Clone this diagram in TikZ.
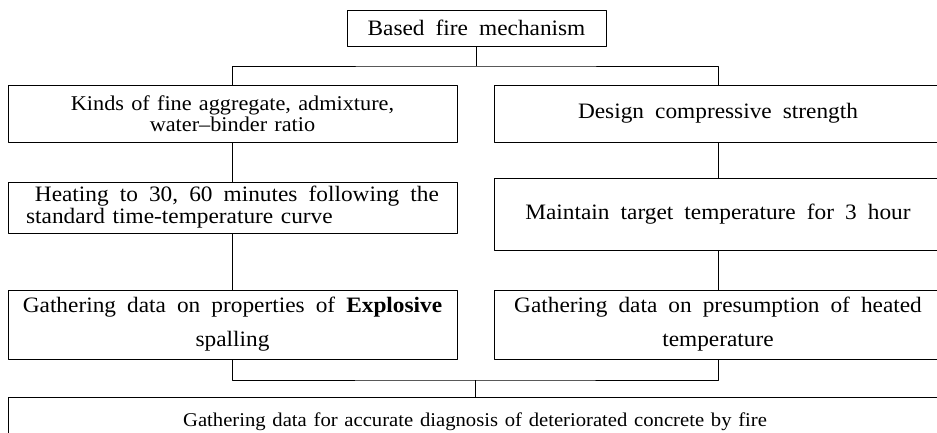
\documentclass[tikz,border=0pt]{standalone}
\usepackage{fontspec}
\setmainfont[FakeStretch=1.06,WordSpace=1.9]{Liberation Serif}
\newfontfamily\plainsp[FakeStretch=1.06]{Liberation Serif}
\newfontfamily\midsp[FakeStretch=1.06,WordSpace=1.3]{Liberation Serif}
\begin{document}
\begin{tikzpicture}[x=1pt,y=-1pt,line join=round,line width=0.9pt]
	\tikzset{box/.style={draw,inner sep=0pt,align=center,font=\fontsize{22}{22}\selectfont},
		leftbox/.style={box,minimum width=449pt},
		rightbox/.style={box,minimum width=448pt}}
	\useasboundingbox (0,0) rectangle (937,432);
	% top
	\node[box,minimum width=259pt,minimum height=36pt] (mech) at (476.5,28) {Based fire mechanism};
	% left column
	\node[leftbox,minimum height=57pt,font=\fontsize{21}{21}\midsp] (kinds) at (232.5,113.5) {Kinds of fine aggregate, admixture,\\ water\textendash binder ratio};
	\node[leftbox,minimum height=51pt,align=left] (heat) at (232.5,207.5) {\hspace*{0.4em}Heating to 30, 60 minutes following the\\ {\plainsp standard time-temperature curve}};
	\node[leftbox,minimum height=69pt] (spall) at (232.5,324.5) {Gathering data on properties of \textbf{Explosive}\\[12pt] spalling};
	% right column
	\node[rightbox,minimum height=57pt] (design) at (718,113.5) {Design compressive strength};
	\node[rightbox,minimum height=72pt] (hold) at (718,214) {Maintain target temperature for 3 hour};
	\node[rightbox,minimum height=69pt] (presume) at (718,324.5) {Gathering data on presumption of heated\\[12pt] temperature};
	% bottom
	\node[box,minimum width=934pt,minimum height=50pt,font=\fontsize{19.5}{20}\midsp] (diag) at (475,422) {Gathering data for accurate diagnosis of deteriorated concrete by fire};
	\coordinate (j1) at (476.5,66);
	\coordinate (j2) at (475,380);
	\draw (mech) -- (j1);
	\draw (kinds.north) |- (j1) -| (design.north);
	\draw (kinds) -- (heat);
	\draw (heat) -- (spall);
	\draw (design) -- (hold);
	\draw (hold) -- (presume);
	\draw (spall.south) |- (j2) -| (presume.south);
	\draw (j2) -- (diag);
\end{tikzpicture}
\end{document}
